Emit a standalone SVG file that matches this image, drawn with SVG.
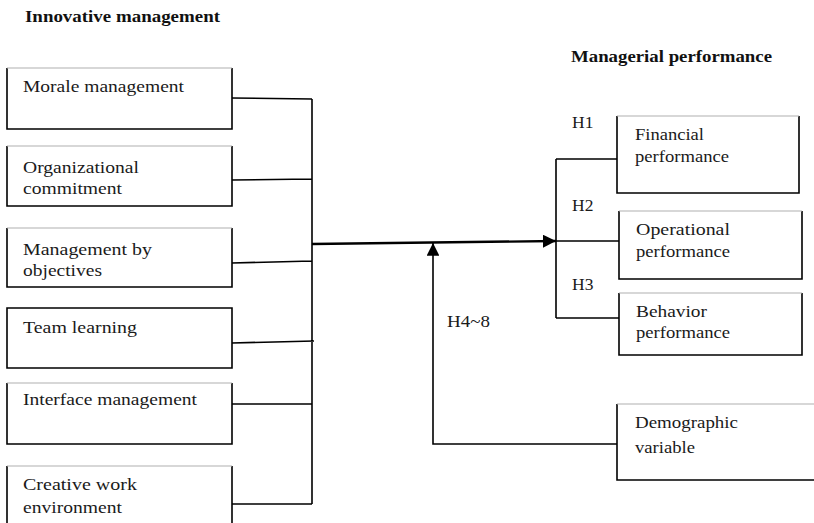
<svg xmlns="http://www.w3.org/2000/svg" width="814" height="523" viewBox="0 0 814 523">
<style>
.bx{fill:#fff;stroke:none}
.sd{fill:none;stroke:#000;stroke-width:1.6}
.tp{stroke:#b0b0b0;stroke-width:1.2}
.c{fill:none;stroke:#000;stroke-width:1.6}
.m{fill:none;stroke:#000;stroke-width:2.4}
</style>
<defs>
<marker id="ar" viewBox="0 0 10 10" refX="10" refY="5" markerWidth="5.5" markerHeight="5.5" orient="auto" markerUnits="strokeWidth"><path d="M0,0L10,5L0,10z" fill="#000"/></marker>
<marker id="ar2" viewBox="0 0 10 10" refX="10" refY="5" markerWidth="8" markerHeight="8" orient="auto" markerUnits="strokeWidth"><path d="M0,0L10,5L0,10z" fill="#000"/></marker>
</defs>
<rect width="814" height="523" fill="#fff"/>
<g font-family="Liberation Serif" font-size="16.5" font-weight="bold" fill="#111">
<text x="25" y="22" textLength="195" lengthAdjust="spacingAndGlyphs">Innovative management</text>
<text x="571" y="62" textLength="201" lengthAdjust="spacingAndGlyphs">Managerial performance</text>
</g>

<g id="connectors">
<path class="c" d="M232,98 L312,99 M232,180 L312,179 M232,263 L312,261 M232,343 L314,341 M232,404 L312,404 M232,504 L312,504 M312,99 L312,504"/>
<path class="m" d="M312,244 L556,241" marker-end="url(#ar)"/>
<path class="c" d="M556,159 L556,318 M556,159 L617,159 M556,241 L619,241 M556,318 L619,318"/>
<path class="c" d="M617,444 L433,444 L433,243" marker-end="url(#ar2)"/>
</g>

<g font-family="Liberation Serif" font-size="17.5" fill="#1a1a1a">
<g id="n-morale"><rect class="bx" x="7" y="68" width="225" height="61"/><path class="sd" d="M7,68 V129 H232 V68"/><line class="tp" x1="7" y1="68" x2="232" y2="68"/><text x="23" y="92" textLength="161" lengthAdjust="spacingAndGlyphs">Morale management</text></g>
<g id="n-org"><rect class="bx" x="7" y="146" width="225" height="60"/><path class="sd" d="M7,146 V206 H232 V146"/><line class="tp" x1="7" y1="146" x2="232" y2="146"/><text x="23" y="173" textLength="116" lengthAdjust="spacingAndGlyphs">Organizational</text><text x="23" y="194" textLength="99" lengthAdjust="spacingAndGlyphs">commitment</text></g>
<g id="n-mbo"><rect class="bx" x="7" y="228" width="225" height="59"/><path class="sd" d="M7,228 V287 H232 V228"/><line class="tp" x1="7" y1="228" x2="232" y2="228"/><text x="23" y="255" textLength="129" lengthAdjust="spacingAndGlyphs">Management by</text><text x="23" y="276" textLength="79" lengthAdjust="spacingAndGlyphs">objectives</text></g>
<g id="n-team"><rect class="bx" x="7" y="308" width="225" height="60"/><path class="sd" d="M7,308 V368 H232 V308 Z"/><text x="23" y="333" textLength="114" lengthAdjust="spacingAndGlyphs">Team learning</text></g>
<g id="n-interface"><rect class="bx" x="7" y="383" width="225" height="61"/><path class="sd" d="M7,383 V444 H232 V383"/><line class="tp" x1="7" y1="383" x2="232" y2="383"/><text x="23" y="405" textLength="174" lengthAdjust="spacingAndGlyphs">Interface management</text></g>
<g id="n-creative"><rect class="bx" x="7" y="466" width="225" height="60"/><path class="sd" d="M7,530 V466 M232,466 V530"/><line class="tp" x1="7" y1="466" x2="232" y2="466"/><text x="23" y="490" textLength="114" lengthAdjust="spacingAndGlyphs">Creative work</text><text x="23" y="513" textLength="99" lengthAdjust="spacingAndGlyphs">environment</text></g>

<g id="n-financial"><rect class="bx" x="617" y="116" width="182" height="77"/><path class="sd" d="M617,116 V193 H799 V116"/><line class="tp" x1="617" y1="116" x2="799" y2="116"/><text x="635" y="140" textLength="69" lengthAdjust="spacingAndGlyphs">Financial</text><text x="635" y="162" textLength="94" lengthAdjust="spacingAndGlyphs">performance</text></g>
<g id="n-operational"><rect class="bx" x="619" y="211" width="183" height="68"/><path class="sd" d="M619,211 V279 H802 V211"/><line class="tp" x1="619" y1="211" x2="802" y2="211"/><text x="636" y="235" textLength="94" lengthAdjust="spacingAndGlyphs">Operational</text><text x="636" y="257" textLength="94" lengthAdjust="spacingAndGlyphs">performance</text></g>
<g id="n-behavior"><rect class="bx" x="619" y="293" width="183" height="62"/><path class="sd" d="M619,293 V355 H802 V293"/><line class="tp" x1="619" y1="293" x2="802" y2="293"/><text x="636" y="317" textLength="71" lengthAdjust="spacingAndGlyphs">Behavior</text><text x="636" y="338" textLength="94" lengthAdjust="spacingAndGlyphs">performance</text></g>
<g id="n-demographic"><rect class="bx" x="617" y="404" width="210" height="76"/><path class="sd" d="M617,404 V480 H820"/><line class="tp" x1="617" y1="404" x2="820" y2="404"/><text x="635" y="428" textLength="103" lengthAdjust="spacingAndGlyphs">Demographic</text><text x="635" y="453" textLength="60" lengthAdjust="spacingAndGlyphs">variable</text></g>

<g id="labels">
<text x="572" y="128">H1</text>
<text x="572" y="211">H2</text>
<text x="572" y="290">H3</text>
<text x="447" y="327" textLength="43" lengthAdjust="spacingAndGlyphs">H4~8</text>
</g>
</g>
</svg>
